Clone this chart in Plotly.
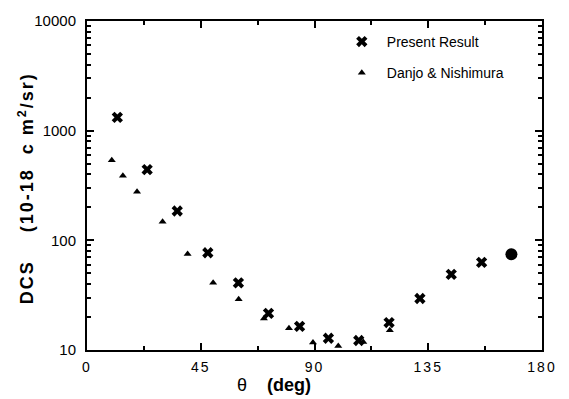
import plotly.graph_objects as go

# Present Result (x markers)
present_theta = [12.0, 23.8, 35.7, 47.8, 59.9, 71.8, 84.1, 95.5, 107.5, 119.5, 131.7, 144.1, 156.1]
present_dcs = [1320, 442, 185, 77, 41, 21.6, 16.4, 12.8, 12.2, 17.8, 29.5, 49, 63]

# Danjo & Nishimura (triangles)
danjo_theta = [9.8, 14.2, 19.8, 29.9, 39.8, 49.9, 60.0, 70.0, 79.9, 89.4, 99.4, 109.3, 119.8]
danjo_dcs = [538, 388, 278, 148, 75, 41, 29.1, 19.4, 15.8, 11.7, 10.9, 11.8, 15.1]

# Extra point (large filled circle)
extra_theta = [167.9]
extra_dcs = [74.6]

x_tickvals = [0, 45, 90, 135, 180]
x_ticktext = ["0", "45", "90", "135", "180"]
y_tickvals = [10, 100, 1000, 10000]
y_ticktext = ["10", "100", "1000", "10000"]
y_minor = [m * d for d in (10, 100, 1000) for m in range(2, 10)]

font_family = "Liberation Sans, Arial, sans-serif"
LS = "letter-spacing:2px"

fig = go.Figure()
fig.add_trace(go.Scatter(
    x=present_theta, y=present_dcs, mode="markers", name="Present Result",
    legendgroup="a",
    marker=dict(symbol="x", size=10, color="black", line=dict(width=0))))
fig.add_trace(go.Scatter(
    x=danjo_theta, y=danjo_dcs, mode="markers", name="Danjo & Nishimura",
    legendgroup="b",
    marker=dict(symbol="triangle-up", size=7, color="black")))
fig.add_trace(go.Scatter(
    x=extra_theta, y=extra_dcs, mode="markers", showlegend=False,
    marker=dict(symbol="circle", size=12, color="black")))

fig.update_layout(
    width=569, height=399,
    margin=dict(l=87, r=20, t=12, b=49),
    paper_bgcolor="white", plot_bgcolor="white",
    font=dict(family=font_family, color="black", size=14),
    showlegend=True,
    legend=dict(x=0.549, y=0.985, xanchor="left", yanchor="top",
                bgcolor="rgba(0,0,0,0)", font=dict(size=14), tracegroupgap=10,
                itemwidth=40),
    xaxis=dict(range=[0, 180], tickvals=x_tickvals,
               ticktext=[f'<span style="{LS}">{t}</span>' for t in x_ticktext],
               ticks="inside", ticklen=7, tickwidth=1.5, tickcolor="black",
               showline=True, linecolor="black", linewidth=2, mirror="ticks",
               showgrid=False, zeroline=False, ticklabelstandoff=3,
               minor=dict(dtick=22.5, ticks="inside", ticklen=4, tickcolor="black", showgrid=False),
               tickfont=dict(size=14)),
    yaxis=dict(type="log", range=[1, 4], tickvals=y_tickvals, ticktext=y_ticktext,
               ticks="inside", ticklen=7, tickwidth=1.5, tickcolor="black",
               showline=True, linecolor="black", linewidth=2, mirror="ticks",
               showgrid=False, zeroline=False, ticklabelstandoff=6,
               minor=dict(tickmode="array", tickvals=y_minor, ticks="inside", ticklen=4,
                          tickcolor="black", showgrid=False),
               tickfont=dict(size=15)),
    annotations=[
        dict(text='θ&nbsp;&nbsp;&nbsp;&nbsp;<b>(deg)</b>', x=(276.5 - 87) / 462, y=-0.105,
             xref="paper", yref="paper", xanchor="center", yanchor="middle",
             showarrow=False, font=dict(size=18)),
        dict(text=f'<b><span style="{LS}">DCS&nbsp;&nbsp;&nbsp;&nbsp;(10-18&nbsp;&nbsp;c&nbsp;m<sup>2</sup>/sr)</span></b>',
             x=(25 - 87) / 462, y=(350 - 184) / 338, textangle=-90,
             xref="paper", yref="paper", xanchor="center", yanchor="middle",
             showarrow=False, font=dict(size=18)),
    ],
)

fig.write_html("out.html")
